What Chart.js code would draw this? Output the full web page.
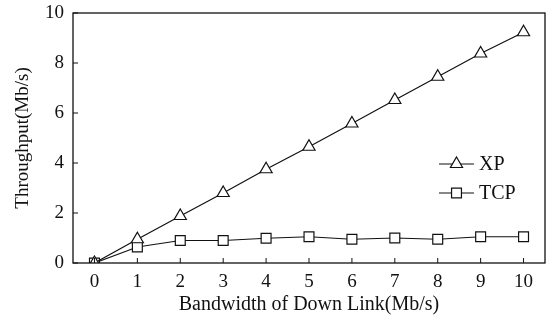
<!DOCTYPE html>
<html>
<head>
<meta charset="utf-8">
<script src="https://cdn.jsdelivr.net/npm/chart.js@4"></script>
<style>
  html, body { margin: 0; padding: 0; background: #fff; }
  #wrap { width: 554px; height: 325px; }
</style>
</head>
<body>
<div id="wrap"><canvas id="chart1" width="554" height="325"></canvas></div>
<script>
// Data
const bandwidth = ['0', '1', '2', '3', '4', '5', '6', '7', '8', '9', '10'];
const xpThroughput = [0, 0.95, 1.88, 2.8, 3.75, 4.65, 5.58, 6.52, 7.45, 8.38, 9.23];
const tcpThroughput = [0, 0.64, 0.9, 0.9, 0.99, 1.05, 0.95, 1.0, 0.95, 1.05, 1.05];
const yTicks = [0, 2, 4, 6, 8, 10];

const serif = 'Liberation Serif';
const ink = '#111';

// frame around plot, inward tick marks, legend inside the plot
const framePlugin = {
  id: 'frame',
  afterDatasetsDraw(chart) {
    const { ctx, chartArea: a, scales } = chart;
    ctx.save();
    ctx.strokeStyle = ink;
    ctx.lineWidth = 1.3;
    ctx.strokeRect(a.left, a.top, a.right - a.left, a.bottom - a.top);

    ctx.lineWidth = 1;
    ctx.beginPath();
    bandwidth.forEach((b, i) => {
      const x = scales.x.getPixelForValue(i);
      ctx.moveTo(x, a.bottom);
      ctx.lineTo(x, a.bottom - 5);
    });
    yTicks.forEach(v => {
      const y = scales.y.getPixelForValue(v);
      ctx.moveTo(a.left, y);
      ctx.lineTo(a.left + 5, y);
    });
    ctx.stroke();

    // legend
    const lx = a.left + 366, ly = a.top + 151;
    chart.data.datasets.forEach((ds, i) => {
      const y = ly + i * 29;
      ctx.strokeStyle = ink;
      ctx.lineWidth = 1.2;
      ctx.beginPath();
      ctx.moveTo(lx, y);
      ctx.lineTo(lx + 35, y);
      ctx.stroke();
      ctx.fillStyle = '#fff';
      Chart.helpers.drawPoint(ctx, {
        pointStyle: ds.pointStyle,
        radius: ds.pointRadius,
        borderWidth: 1.2
      }, lx + 17.5, y);
      ctx.fillStyle = ink;
      ctx.font = '20px "' + serif + '"';
      ctx.textBaseline = 'middle';
      ctx.fillText(ds.label, lx + 40, y + 1);
    });
    ctx.restore();
  }
};

const data = {
  labels: bandwidth,
  datasets: [{
    label: 'XP',
    data: xpThroughput,
    borderColor: ink,
    backgroundColor: '#fff',
    borderWidth: 1.2,
    pointStyle: 'triangle',
    pointRadius: 7,
    pointBorderWidth: 1.2,
    pointBackgroundColor: '#fff',
    pointBorderColor: ink
  }, {
    label: 'TCP',
    data: tcpThroughput,
    borderColor: ink,
    backgroundColor: '#fff',
    borderWidth: 1.2,
    pointStyle: 'rect',
    pointRadius: 7,
    pointBorderWidth: 1.2,
    pointBackgroundColor: '#fff',
    pointBorderColor: ink
  }]
};

const options = {
  responsive: false,
  animation: false,
  layout: { padding: { left: 0, right: 9, top: 13, bottom: 0 } },
  plugins: {
    legend: { display: false },
    tooltip: { enabled: false }
  },
  scales: {
    x: {
      type: 'category',
      offset: true,
      grid: { display: false, drawTicks: false },
      border: { display: false },
      ticks: { color: ink, padding: 8, font: { family: serif, size: 19 } },
      title: {
        display: true,
        text: 'Bandwidth of Down Link(Mb/s)',
        color: ink,
        font: { family: serif, size: 20 },
        padding: { top: 0, bottom: 8 }
      },
      afterFit(scale) {
        scale.height = 62;
        scale.paddingLeft = 0;
        scale.paddingRight = 0;
      }
    },
    y: {
      min: 0,
      max: 10,
      grid: { display: false, drawTicks: false },
      border: { display: false },
      ticks: { stepSize: 2, color: ink, padding: 9, font: { family: serif, size: 19 } },
      title: {
        display: true,
        text: 'Throughput(Mb/s)',
        color: ink,
        font: { family: serif, size: 19 },
        padding: { top: 12, bottom: 0 }
      },
      afterFit(scale) {
        scale.width = 73;
        scale.paddingTop = 0;
        scale.paddingBottom = 0;
      }
    }
  }
};

const ctx = document.getElementById('chart1').getContext('2d');
const myChart = new Chart(ctx, {
  type: 'line',
  data: data,
  options: options,
  plugins: [framePlugin]
});
</script>
</body>
</html>
